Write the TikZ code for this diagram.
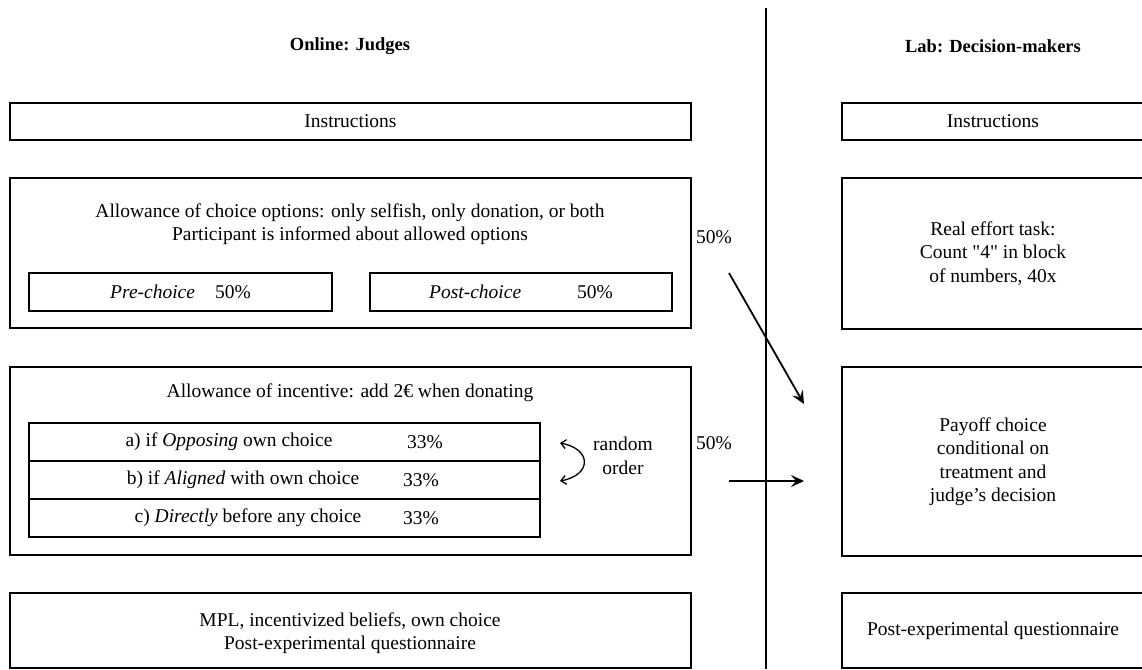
\documentclass[tikz,border=0pt]{standalone}
\usepackage{fontspec}
\setmainfont{Liberation Serif}[Ligatures=TeXOff]
\usetikzlibrary{arrows.meta}
\newcommand\mainsize{\fontsize{19.5}{23.5}\selectfont}
\begin{document}
\begin{tikzpicture}[x=1pt,y=-1pt,
  box/.style={draw, line width=2pt, rectangle, inner sep=0pt, outer sep=0pt, align=center, font=\mainsize},
  txt/.style={inner sep=0pt, align=center, font=\mainsize},
  head/.style={inner sep=0pt, font=\fontsize{18.5}{22}\selectfont\bfseries},
  arr/.style={line width=1.8pt, -{Stealth[length=13pt,width=12pt,inset=5pt]}},
  swap/.style={line width=1.3pt, {Straight Barb[length=5pt,width=9pt]}-{Straight Barb[length=5pt,width=9pt]}}]
\useasboundingbox (0,0) rectangle (1142,669);
\clip (0,0) rectangle (1142,669);

% divider
\coordinate (vtop) at (766,8);
\coordinate (vbot) at (766,669);
\draw[line width=2pt] (vtop) -- (vbot);

% headings
\node[head] (hL) at (350,46) {Online: Judges};
\node[head] (hR) at (993,46) {Lab: Decision-makers};

% left column
\node[box, minimum width=681pt, minimum height=37pt] (instrL) at (350.5,121.5) {Instructions};

\node[box, minimum width=681pt, minimum height=150pt] (choiceL) at (350.5,253) {};
\node[txt] (choicetxt) at (350,224) {Allowance of choice options: only selfish, only donation, or both\\Participant is informed about allowed options};
\node[box, minimum width=303pt, minimum height=38pt] (pre) at (180.5,292) {\textit{Pre-choice}\hspace{20pt}50\%};
\node[box, minimum width=302pt, minimum height=38pt] (post) at (521,292) {\textit{Post-choice}\hspace{56pt}50\%};

\node[box, minimum width=681pt, minimum height=188pt] (incL) at (350.5,461) {};
\node[txt] (inctxt) at (350,393) {Allowance of incentive: add 2€ when donating};
\node[box, minimum width=511pt, minimum height=38pt] (rowA) at (284.5,442) {};
\node[box, minimum width=511pt, minimum height=38pt] (rowB) at (284.5,480) {};
\node[box, minimum width=511pt, minimum height=38pt] (rowC) at (284.5,518) {};
\node[txt] (ta) at (229,442) {a) if \textit{Opposing} own choice};
\node[txt] (tb) at (243,480) {b) if \textit{Aligned} with own choice};
\node[txt] (tc) at (248,518) {c) \textit{Directly} before any choice};
\node[txt] (pa) at (425,442) {33\%};
\node[txt] (pb) at (421,480) {33\%};
\node[txt] (pc) at (421,518) {33\%};
\node[txt] (rand) at (623,456) {random\\order};
\coordinate (ro1) at (560,443);
\coordinate (ro2) at (560,481);
\draw[swap] (ro1) .. controls (592,449) and (592,475) .. (ro2);

\node[box, minimum width=681pt, minimum height=75pt] (mplL) at (350.5,630.5) {};
\node[txt] (mpltxt) at (350,633) {MPL, incentivized beliefs, own choice\\Post-experimental questionnaire};

% right column
\node[box, minimum width=302pt, minimum height=37pt] (instrR) at (993,121.5) {Instructions};
\node[box, minimum width=302pt, minimum height=151pt] (effort) at (993,253.5) {Real effort task:\\Count "4" in block\\of numbers, 40x};
\node[box, minimum width=302pt, minimum height=189pt] (payoff) at (993,461.5) {Payoff choice\\conditional on\\treatment and\\judge’s decision};
\node[box, minimum width=302pt, minimum height=75pt] (postR) at (993,630.5) {Post-experimental questionnaire};

% probabilities and arrows
\node[txt] (p1) at (714,237) {50\%};
\node[txt] (p2) at (714,443) {50\%};
\coordinate (a1s) at (729,273);
\coordinate (a1e) at (804,404);
\coordinate (a2s) at (729,481);
\coordinate (a2e) at (804,481);
\draw[arr] (a1s) -- (a1e);
\draw[arr] (a2s) -- (a2e);
\end{tikzpicture}
\end{document}
